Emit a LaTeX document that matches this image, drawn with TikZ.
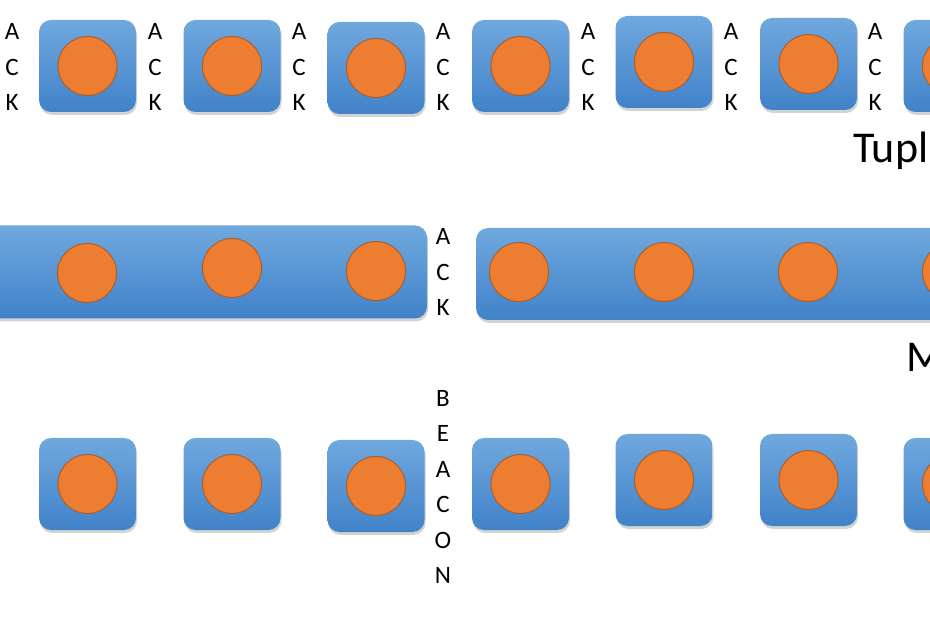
\documentclass[tikz,border=0pt]{standalone}
\usepackage{fontspec}
\setmainfont{Carlito}
\usetikzlibrary{shadows}
\definecolor{azulA}{RGB}{112,168,222}
\definecolor{azulB}{RGB}{64,130,201}
\definecolor{naranja}{RGB}{237,125,49}
\definecolor{naranjaB}{RGB}{174,90,33}
\tikzset{
  celda/.style={rectangle,rounded corners=12pt,top color=azulA,bottom color=azulB,
    draw=none,drop shadow={shadow xshift=1pt,shadow yshift=-3pt,opacity=0.35,fill=gray}},
  bola/.style={circle,fill=naranja,draw=naranjaB,line width=0.9pt,minimum size=59pt,inner sep=0pt},
  letras/.style={align=center,inner sep=0pt,font=\fontsize{25}{35.5}\selectfont},
  titulo/.style={inner sep=0pt,font=\fontsize{44}{50}\selectfont}
}
\begin{document}
\begin{tikzpicture}[x=1pt,y=-1pt]
\useasboundingbox (0,0) rectangle (930,620);
\clip (0,0) rectangle (930,620);
% fila 1: tupla a tupla / fila 3: beacon
\foreach \x/\ya/\yc [count=\i] in {87.5/66/484,232/66/484,376/68/486,520.5/66/484,664/62/480,808.5/64/480,952/66/484} {
  \node[celda,minimum width=97pt,minimum height=92pt] (t\i) at (\x,\ya) {};
  \node[bola] (tb\i) at (t\i.center) {};
  \node[celda,minimum width=97pt,minimum height=92pt] (c\i) at (\x,\yc) {};
  \node[bola] (cb\i) at (c\i.center) {};
}
% ack entre tuplas
\foreach \x [count=\i] in {12,155,299,443,588,731,875} {
  \node[letras] (ack\i) at (\x,67) {A\\C\\K};
}
\node[titulo,anchor=base west] (tupla) at (853,163) {Tupl};
% fila 2: lotes
\node[celda,minimum width=467pt,minimum height=93pt] (lote1) at (193.5,272) {};
\node[celda,minimum width=520pt,minimum height=92pt] (lote2) at (736,274) {};
\foreach \x/\y [count=\i] in {87/273,232/268,376/271} {
  \node[bola] (lb\i) at (\x,\y) {};
}
\foreach \x/\y [count=\i] in {519/272,664/272,808/272,952/272} {
  \node[bola] (mb\i) at (\x,\y) {};
}
\node[letras] (ackl) at (443,272) {A\\C\\K};
\node[titulo,anchor=base west] (lote) at (906,372) {M};
% beacon
\node[letras] (beacon) at (443,487) {B\\E\\A\\C\\O\\N};
\end{tikzpicture}
\end{document}
